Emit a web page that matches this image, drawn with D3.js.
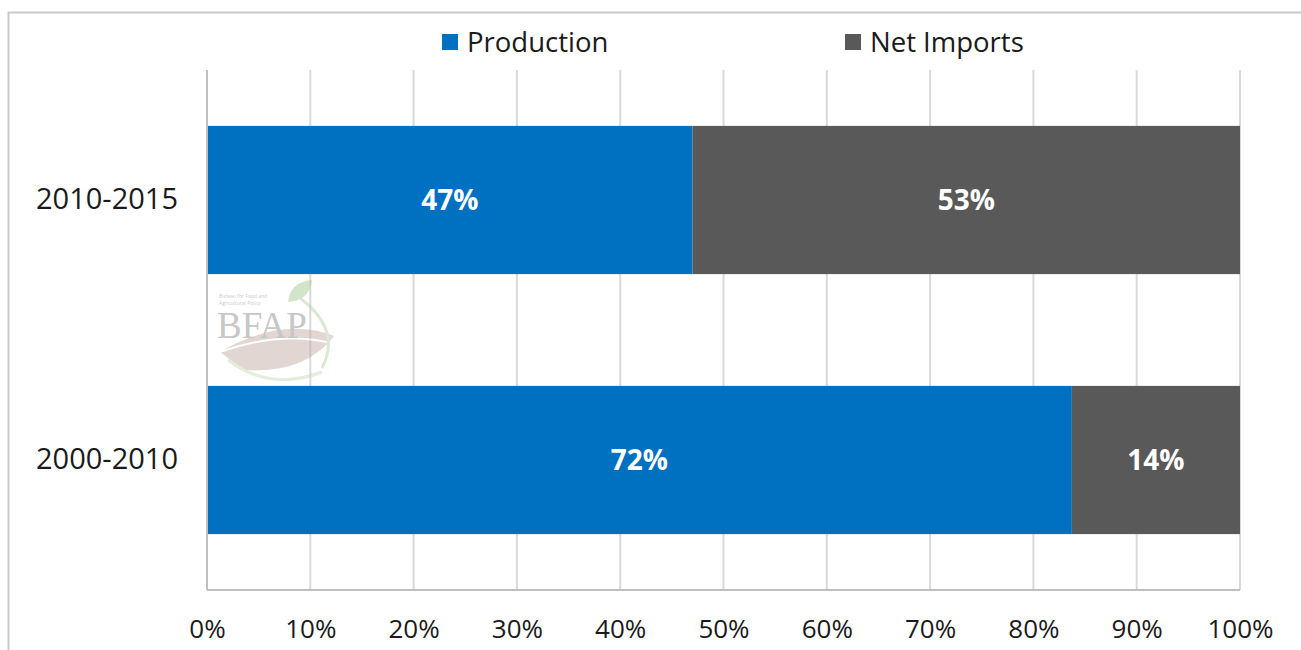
<!DOCTYPE html>
<html lang="en">
<head>
<meta charset="UTF-8">
<title>Production vs Net Imports</title>
<script src="https://d3js.org/d3.v7.min.js"></script>
<style>
  body { margin: 0; background: #fff; font-family: "Open Sans", Arial, sans-serif; }
  svg { display: block; }
</style>
</head>
<body>
<div id="chart"></div>
<script>
const periods = ["2010-2015", "2000-2010"];
const seriesNames = ["Production", "Net Imports"];
const production = [47, 72];
const netImports = [53, 14];
const tickValues = [0, 0.1, 0.2, 0.3, 0.4, 0.5, 0.6, 0.7, 0.8, 0.9, 1];
const colors = ["#0070C0", "#595959"];

const width = 1301, height = 650;
const margin = { top: 70, right: 61, bottom: 60, left: 207 };

const svg = d3.select("#chart").append("svg")
  .attr("width", width)
  .attr("height", height);

// outer frame
svg.append("rect")
  .attr("x", 8.5).attr("y", 12.5)
  .attr("width", width).attr("height", height)
  .attr("fill", "none")
  .attr("stroke", "#c9c9c9")
  .attr("stroke-width", 2);

const rows = periods.map((p, i) => ({ period: p, "Production": production[i], "Net Imports": netImports[i] }));
const stacked = d3.stack().keys(seriesNames).offset(d3.stackOffsetExpand)(rows);

const x = d3.scaleLinear().domain([0, 1]).range([margin.left, width - margin.right]);
const y = d3.scaleBand().domain(periods).range([margin.top, height - margin.bottom]).paddingInner(0.43).paddingOuter(0.215);

// gridlines
svg.append("g")
  .selectAll("line")
  .data(tickValues.slice(1))
  .join("line")
  .attr("x1", d => x(d)).attr("x2", d => x(d))
  .attr("y1", margin.top).attr("y2", height - margin.bottom)
  .attr("stroke", "#d9d9d9")
  .attr("stroke-width", 2);

// watermark logo
const logo = svg.append("g").attr("opacity", 0.5);
logo.append("path")
  .attr("d", "M220,352 Q282,316 334,336 Q305,374 244,370 Z")
  .attr("fill", "#c4aea4");
logo.append("path")
  .attr("d", "M220,352 Q282,330 334,344")
  .attr("fill", "none").attr("stroke", "#fff").attr("stroke-width", 2);
logo.append("path")
  .attr("d", "M228,360 Q270,392 322,372")
  .attr("fill", "none").attr("stroke", "#c9dcb8").attr("stroke-width", 3);
logo.append("path")
  .attr("d", "M300,298 Q342,330 322,368")
  .attr("fill", "none").attr("stroke", "#b9d3a8").attr("stroke-width", 3);
logo.append("path")
  .attr("d", "M288,302 Q290,282 312,280 Q310,300 288,302 Z")
  .attr("fill", "#a9cc94");
logo.append("text")
  .attr("x", 217).attr("y", 338)
  .attr("font-family", "'Liberation Serif', 'DejaVu Serif', serif")
  .attr("font-size", 37)
  .attr("fill", "#909090")
  .text("BFAP");
logo.append("text")
  .attr("x", 219).attr("y", 298)
  .attr("font-size", 5)
  .attr("fill", "#909090")
  .text("Bureau for Food and");
logo.append("text")
  .attr("x", 219).attr("y", 305)
  .attr("font-size", 5)
  .attr("fill", "#909090")
  .text("Agricultural Policy");

// bars
const layers = svg.append("g")
  .selectAll("g")
  .data(stacked)
  .join("g")
  .attr("fill", (d, i) => colors[i]);

layers.selectAll("rect")
  .data(d => d)
  .join("rect")
  .attr("x", d => x(d[0]))
  .attr("width", d => x(d[1]) - x(d[0]))
  .attr("y", d => y(d.data.period))
  .attr("height", y.bandwidth());

// data labels
layers.each(function (layer) {
  d3.select(this).selectAll("text")
    .data(layer)
    .join("text")
    .attr("x", d => (x(d[0]) + x(d[1])) / 2)
    .attr("y", d => y(d.data.period) + y.bandwidth() / 2)
    .attr("dy", "0.36em")
    .attr("text-anchor", "middle")
    .attr("fill", "#fff")
    .attr("font-weight", "bold")
    .attr("font-size", 28)
    .text(d => d.data[layer.key] + "%");
});

// axes lines
svg.append("line")
  .attr("x1", x(0)).attr("x2", x(0))
  .attr("y1", margin.top).attr("y2", height - margin.bottom)
  .attr("stroke", "#bfbfbf").attr("stroke-width", 2);
svg.append("line")
  .attr("x1", x(0)).attr("x2", x(1))
  .attr("y1", height - margin.bottom).attr("y2", height - margin.bottom)
  .attr("stroke", "#bfbfbf").attr("stroke-width", 2);

// x axis
const xAxis = svg.append("g")
  .attr("transform", `translate(0,${height - margin.bottom})`)
  .call(d3.axisBottom(x).tickValues(tickValues).tickFormat(d3.format(".0%")).tickSize(0).tickPadding(30));
xAxis.select(".domain").remove();
xAxis.selectAll("text")
  .attr("font-family", "'Open Sans', Arial, sans-serif")
  .attr("font-size", 26)
  .attr("fill", "#1a1a1a");

// y axis
const yAxis = svg.append("g")
  .attr("transform", `translate(${margin.left},0)`)
  .call(d3.axisLeft(y).tickSize(0).tickPadding(29));
yAxis.select(".domain").remove();
yAxis.selectAll("text")
  .attr("font-family", "'Open Sans', Arial, sans-serif")
  .attr("font-size", 29)
  .attr("fill", "#1a1a1a");

// legend
const legendX = [442, 845];
const legend = svg.append("g")
  .selectAll("g")
  .data(seriesNames)
  .join("g")
  .attr("transform", (d, i) => `translate(${legendX[i]},42)`);
legend.append("rect")
  .attr("x", 0).attr("y", -8)
  .attr("width", 16).attr("height", 16)
  .attr("fill", (d, i) => colors[i]);
legend.append("text")
  .attr("x", 25)
  .attr("dy", "0.36em")
  .attr("font-size", 27.5)
  .attr("fill", "#1a1a1a")
  .text(d => d);
</script>
</body>
</html>
